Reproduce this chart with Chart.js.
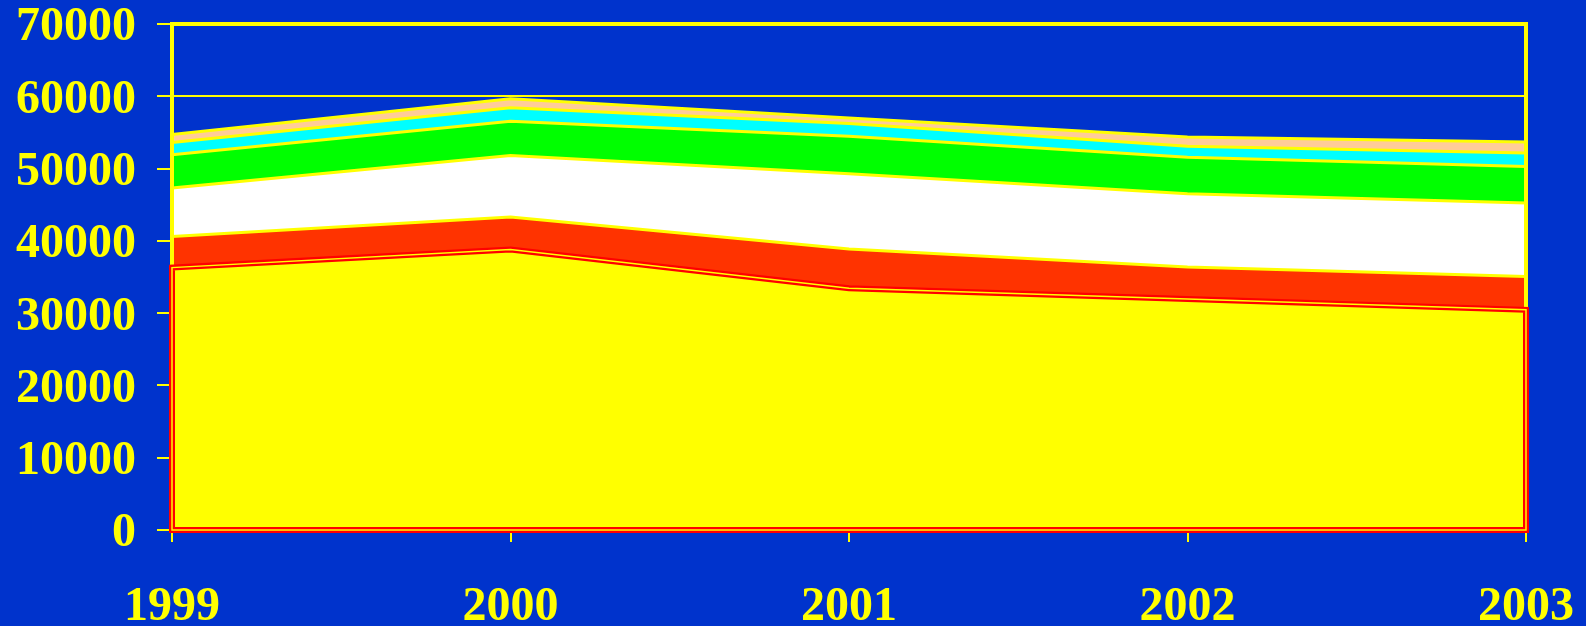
<!DOCTYPE html>
<html>
<head>
<meta charset="utf-8">
<script src="https://cdn.jsdelivr.net/npm/chart.js@4/dist/chart.umd.min.js"></script>
<style>
  html, body { margin: 0; padding: 0; background: #0033cc; }
  canvas { display: block; }
</style>
</head>
<body>
<canvas id="myChart" width="1586" height="626"></canvas>
<script>
// data (stacked layers, bottom first)
var years = ["1999", "2000", "2001", "2002", "2003"];
var yellowVals = [36300, 38800, 33460, 31940, 30460];
var redVals = [4300, 4500, 5400, 4430, 4610];
var whiteVals = [6700, 8500, 10430, 10150, 10160];
var greenVals = [4600, 4750, 5170, 5030, 5070];
var cyanVals = [1700, 1850, 1760, 1530, 1860];
var peachVals = [1100, 1250, 780, 1300, 1520];
var yMax = 70000;
var yStep = 10000;

var YEL = "#ffff00";
var font = { family: "'Liberation Serif', 'Times New Roman', serif", size: 48, weight: "bold" };

// yellow frame of the plot, then red double outline round the bottom layer
var outline = {
  id: "outline",
  afterDatasetsDraw: function (chart) {
    var ctx = chart.ctx;
    var a = chart.chartArea;
    var pts = chart.getDatasetMeta(0).data;
    var y0 = chart.scales.y.getPixelForValue(0);
    ctx.save();
    ctx.beginPath();
    ctx.moveTo(a.left, a.bottom);
    ctx.lineTo(a.left, a.top);
    ctx.lineTo(a.right, a.top);
    ctx.lineTo(a.right, a.bottom);
    ctx.strokeStyle = YEL;
    ctx.lineWidth = 4;
    ctx.stroke();

    ctx.beginPath();
    ctx.moveTo(pts[0].x, y0);
    pts.forEach(function (p) { ctx.lineTo(p.x, p.y); });
    ctx.lineTo(pts[pts.length - 1].x, y0);
    ctx.closePath();
    ctx.lineJoin = "miter";
    ctx.strokeStyle = "#ff0000";
    ctx.lineWidth = 6;
    ctx.stroke();
    ctx.strokeStyle = YEL;
    ctx.lineWidth = 1.5;
    ctx.stroke();
    ctx.restore();
  }
};

function layer(data, color, border, bw) {
  return {
    data: data,
    backgroundColor: color,
    borderColor: border,
    borderWidth: bw,
    pointRadius: 0,
    tension: 0,
    fill: "-1"
  };
}

var datasets = [
  layer(yellowVals, YEL, "#ff0000", 2),
  layer(redVals, "#ff3300", YEL, 3),
  layer(whiteVals, "#ffffff", YEL, 3),
  layer(greenVals, "#00ff00", YEL, 3),
  layer(cyanVals, "#00ffff", YEL, 3),
  layer(peachVals, "#ffcc99", YEL, 3)
];
datasets[0].fill = "origin";

var chart = document.getElementById("myChart").getContext("2d");
var myChart = new Chart(chart, {
  type: "line",
  data: { labels: years, datasets: datasets },
  plugins: [outline],
  options: {
    responsive: false,
    animation: false,
    layout: { padding: { top: 24, right: 60, left: 0, bottom: 0 } },
    plugins: { legend: { display: false }, tooltip: { enabled: false } },
    scales: {
      x: {
        offset: false,
        grid: { drawOnChartArea: false, drawTicks: true, tickLength: 12, color: YEL, lineWidth: 2 },
        border: { color: YEL, width: 2 },
        ticks: { color: YEL, font: font, padding: 37, maxRotation: 0 },
        afterFit: function (s) {
          s.height = 96;
          s.paddingLeft = 0;
          s.paddingRight = 0;
        }
      },
      y: {
        stacked: true,
        min: 0,
        max: yMax,
        grid: { color: YEL, lineWidth: 2, tickLength: 15 },
        border: { color: YEL, width: 4 },
        ticks: {
          stepSize: yStep,
          color: YEL,
          font: font,
          padding: 21,
          labelOffset: 4,
          callback: function (v) { return String(v); }
        },
        afterFit: function (s) {
          s.width = 172;
          s.paddingTop = 0;
          s.paddingBottom = 0;
        }
      }
    }
  }
});
</script>
</body>
</html>
